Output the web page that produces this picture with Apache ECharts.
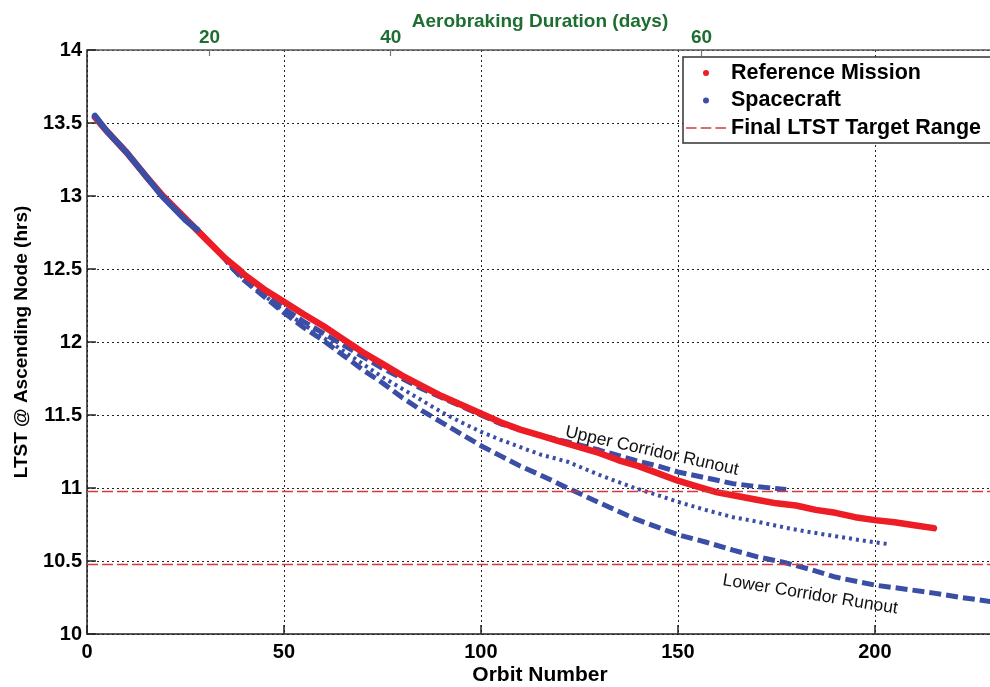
<!DOCTYPE html>
<html><head><meta charset="utf-8">
<script src="https://cdn.jsdelivr.net/npm/echarts@6/dist/echarts.min.js"></script>
<style>html,body{margin:0;padding:0;background:#fff}#c{width:990px;height:687px}</style>
</head><body><div id="c"></div>
<script>
// ---- data ----
const refOrbits = [2,5,10,15,19.3,25,30,35,38.4,40,45,50,55,60,65,70,75,80,85,90,95,100,105,110,115,120,125,130,135,140,145,150,155,160,165,170,175,180,185,190,195,200,205,210,215];
const refValues = [13.54,13.445,13.30,13.135,13.00,12.845,12.71,12.575,12.50,12.46,12.36,12.275,12.19,12.11,12.02,11.93,11.85,11.77,11.70,11.63,11.57,11.51,11.45,11.40,11.36,11.32,11.28,11.24,11.19,11.15,11.10,11.05,11.01,10.97,10.945,10.92,10.895,10.88,10.85,10.83,10.80,10.78,10.765,10.745,10.725];

const scOrbits = [2,5,10,15,19,25,28];
const scValues = [13.55,13.445,13.30,13.135,13.00,12.835,12.77];

const upperOrbits = [28,35,37.1,40,45,50,55,60,65,70,75,80,85,90,95,100,105,110,115,122,130,139,145,150,157,164,170,177.5];
const upperValues = [12.77,12.57,12.50,12.43,12.33,12.23,12.14,12.06,11.98,11.90,11.82,11.75,11.68,11.62,11.56,11.50,11.44,11.40,11.36,11.315,11.26,11.19,11.15,11.11,11.07,11.03,11.01,10.99];

const nomOrbits = [28,35,37.1,40,45,50,55,60,65,70,75,80,85,90,95,100,105,110,115,122,130,139,145,150,157,164,170,177,183,190,197,203.6];
const nomValues = [12.77,12.57,12.50,12.43,12.32,12.21,12.12,12.03,11.94,11.85,11.76,11.68,11.60,11.52,11.45,11.385,11.33,11.28,11.23,11.18,11.09,11.00,10.95,10.905,10.85,10.80,10.77,10.73,10.70,10.67,10.64,10.615];

const lowerOrbits = [28,35,37.1,40,45,50,55,60,65,70,75,80,85,90,95,100,105,110,115,122,130,139,145,150,157,164,170,177,184,190,200,207,215,222,230];
const lowerValues = [12.77,12.57,12.50,12.42,12.31,12.20,12.10,12.01,11.91,11.81,11.72,11.62,11.53,11.45,11.37,11.29,11.22,11.15,11.09,11.00,10.90,10.79,10.73,10.68,10.63,10.575,10.53,10.49,10.44,10.39,10.335,10.31,10.28,10.25,10.22];

const targetRange = [10.98, 10.48];

const dayTicks = [20, 40, 60];
const dayTickOrbits = [31.1, 77.1, 156.0];

const seriesNames = ['Reference Mission', 'Spacecraft', 'Final LTST Target Range'];
const annotationTexts = ['Upper Corridor Runout', 'Lower Corridor Runout'];
const annotationAnchors = [[143.4, 11.253], [183.6, 10.27]];
const annotationAngles = [12.5, 9.3];

// ---- chart ----
const FONT = '"Liberation Sans", Arial, Helvetica, sans-serif';
const RED = '#ec1d25';
const BLUE = '#3a4ea6';
const GREEN = '#1e6e31';
const TARGET = '#d8383f';
const zip = (xs, ys) => xs.map((x, i) => [x, ys[i]]);

const chart = echarts.init(document.getElementById('c'), null, {renderer: 'canvas'});

chart.setOption({
  animation: false,
  backgroundColor: '#fff',
  grid: {left: 87, top: 50, width: 906, height: 584, containLabel: false, outerBoundsMode: 'none'},
  legend: {
    orient: 'vertical', left: 683, top: 57,
    data: [
      {name: seriesNames[0], icon: 'circle'},
      {name: seriesNames[1], icon: 'circle'},
      {name: seriesNames[2], icon: 'path://M0,0h10v1.4h-10z M14,0h10v1.4h-10z M28,0h10v1.4h-10z'}
    ],
    itemWidth: 40, itemHeight: 6, itemGap: 5.5,
    padding: [5, 20, 4, 3],
    backgroundColor: '#fff', borderColor: '#333', borderWidth: 1.5, borderRadius: 0,
    selectedMode: false,
    textStyle: {fontFamily: FONT, fontSize: 21.5, fontWeight: 'bold', color: '#000'}
  },
  xAxis: [{
    type: 'value', min: 0, max: 230, interval: 50, position: 'bottom',
    name: 'Orbit Number', nameLocation: 'middle', nameGap: 31, nameMoveOverlap: false,
    nameTextStyle: {fontFamily: FONT, fontSize: 21, fontWeight: 'bold', color: '#000'},
    axisLine: {show: true, onZero: false, lineStyle: {color: '#222', width: 1.5}},
    axisTick: {show: true, inside: true, length: 9, lineStyle: {color: '#222', width: 1.5}},
    axisLabel: {fontFamily: FONT, fontSize: 20, fontWeight: 'bold', color: '#000', margin: 8, showMaxLabel: false},
    splitLine: {show: true, lineStyle: {type: [2, 3], color: '#222', width: 1}}
  }, {
    type: 'value', min: 0, max: 230, position: 'top',
    name: 'Aerobraking Duration (days)', nameLocation: 'middle', nameGap: 19, nameMoveOverlap: false,
    nameTextStyle: {fontFamily: FONT, fontSize: 19, fontWeight: 'bold', color: GREEN},
    axisLine: {show: true, onZero: false, lineStyle: {color: '#555', width: 1.5}},
    axisTick: {show: true, inside: true, length: 6, customValues: dayTickOrbits, lineStyle: {color: '#777', width: 1.2}},
    axisLabel: {
      customValues: dayTickOrbits, margin: 3,
      fontFamily: FONT, fontSize: 19, fontWeight: 'bold', color: GREEN,
      formatter: v => {
        const i = dayTickOrbits.findIndex(o => Math.abs(o - v) < 1e-6);
        return i >= 0 ? String(dayTicks[i]) : '';
      }
    },
    splitLine: {show: false}
  }],
  yAxis: {
    type: 'value', min: 10, max: 14, interval: 0.5,
    name: 'LTST @ Ascending Node (hrs)', nameLocation: 'middle', nameGap: 56,
    nameTextStyle: {fontFamily: FONT, fontSize: 19, fontWeight: 'bold', color: '#000'},
    axisLine: {show: true, lineStyle: {color: '#222', width: 1.5}},
    axisTick: {show: true, inside: true, length: 9, lineStyle: {color: '#222', width: 1.5}},
    axisLabel: {fontFamily: FONT, fontSize: 20, fontWeight: 'bold', color: '#000', margin: 5},
    splitLine: {show: true, lineStyle: {type: [2, 3], color: '#222', width: 1}}
  },
  series: [
    {
      name: 'Lower Corridor', type: 'line', xAxisIndex: 0, data: zip(lowerOrbits, lowerValues),
      showSymbol: false, symbol: 'none', silent: true, z: 3,
      lineStyle: {color: BLUE, width: 5, type: [12, 5], cap: 'butt'}
    },
    {
      name: 'Nominal', type: 'line', xAxisIndex: 0, data: zip(nomOrbits, nomValues),
      showSymbol: false, symbol: 'none', silent: true, z: 3,
      lineStyle: {color: BLUE, width: 4, type: [3, 4], cap: 'butt'}
    },
    {
      name: 'Upper Corridor', type: 'line', xAxisIndex: 0, data: zip(upperOrbits, upperValues),
      showSymbol: false, symbol: 'none', silent: true, z: 3,
      lineStyle: {color: BLUE, width: 5, type: [12, 5], cap: 'butt'}
    },
    {
      name: seriesNames[0], type: 'line', xAxisIndex: 0, data: zip(refOrbits, refValues),
      showSymbol: false, symbol: 'circle', color: RED, z: 4,
      lineStyle: {color: RED, width: 6.5, cap: 'round', join: 'round'}
    },
    {
      name: seriesNames[1], type: 'line', xAxisIndex: 0, data: zip(scOrbits, scValues),
      showSymbol: false, symbol: 'circle', color: BLUE, z: 5,
      lineStyle: {color: BLUE, width: 6, cap: 'round', join: 'round'}
    },
    {
      name: seriesNames[2], type: 'line', xAxisIndex: 0, data: [],
      symbol: 'none', color: TARGET,
      lineStyle: {color: TARGET, width: 1.5, type: [10, 4]},
      markLine: {
        silent: true, symbol: 'none', label: {show: false},
        lineStyle: {color: TARGET, width: 1.3, type: [11, 4]},
        data: targetRange.map(v => ({yAxis: v}))
      }
    }
  ]
});

chart.setOption({
  graphic: annotationTexts.map((t, i) => {
    const p = chart.convertToPixel({xAxisIndex: 0, yAxisIndex: 0}, annotationAnchors[i]);
    return {
      type: 'text', x: p[0], y: p[1], rotation: -annotationAngles[i] * Math.PI / 180, z: 20,
      style: {text: t, font: '17.5px ' + FONT, fill: '#111', align: 'center', verticalAlign: 'middle'}
    };
  })
});
</script>
</body></html>
